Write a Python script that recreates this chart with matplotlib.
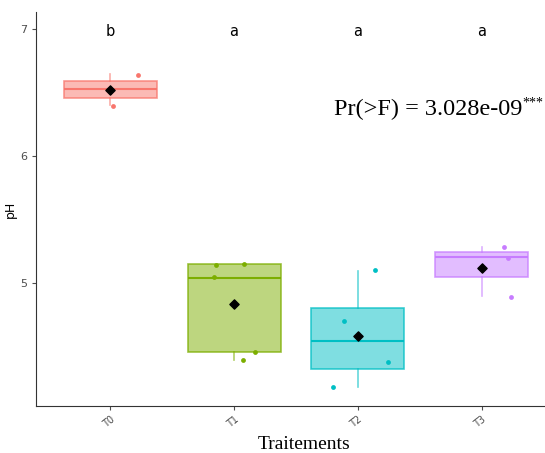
import matplotlib
matplotlib.use('Agg')
import matplotlib.pyplot as plt

# donnees
traitements = ['T0', 'T1', 'T2', 'T3']
lettres = ['b', 'a', 'a', 'a']
mediane = [6.527, 5.042, 4.543, 5.207]
q1 = [6.457, 4.459, 4.323, 5.045]
q3 = [6.590, 5.147, 4.801, 5.242]
moustache_bas = [6.400, 4.394, 4.183, 4.898]
moustache_haut = [6.646, 5.150, 5.097, 5.281]
moyenne = [6.522, 4.835, 4.585, 5.120]

# points visibles (decalage horizontal du jitter, valeur)
points_dx = [
    [0.22, 0.02],
    [-0.15, 0.08, -0.16, 0.17, 0.07],
    [0.14, -0.11, -0.20, 0.24],
    [0.18, 0.21, 0.24],
]
points_val = [
    [6.640, 6.390],
    [5.142, 5.150, 5.045, 4.457, 4.393],
    [5.105, 4.698, 4.181, 4.376],
    [5.281, 5.194, 4.887],
]
p_valeur = 'Pr(>F) = 3.028e-09'

couleurs = ['#F8766D', '#7CAE00', '#00BFC4', '#C77CFF']

fig = plt.figure(figsize=(5.45, 4.53), dpi=100)
ax = fig.add_axes([36 / 545, 47 / 453, 520 / 545, 394 / 453])

stats = []
for i in range(len(traitements)):
    stats.append({
        'med': mediane[i], 'q1': q1[i], 'q3': q3[i],
        'whislo': moustache_bas[i], 'whishi': moustache_haut[i],
        'mean': moyenne[i], 'fliers': [],
    })

bp = ax.bxp(stats, positions=range(len(traitements)), widths=0.75,
            patch_artist=True, showcaps=False, showmeans=False)
for i, c in enumerate(couleurs):
    bp['boxes'][i].set_facecolor(matplotlib.colors.to_rgba(c, 0.5))
    bp['boxes'][i].set_edgecolor(matplotlib.colors.to_rgba(c, 0.75))
    bp['boxes'][i].set_linewidth(1.2)
    bp['medians'][i].set_color(c)
    bp['medians'][i].set_linewidth(1.5)
    for w in bp['whiskers'][2 * i:2 * i + 2]:
        w.set_color(matplotlib.colors.to_rgba(c, 0.6))
        w.set_linewidth(1.2)

for i, c in enumerate(couleurs):
    xs = [i + d for d in points_dx[i]]
    ax.scatter(xs, points_val[i], s=12, color=c, zorder=4, linewidths=0)
    ax.scatter([i], [moyenne[i]], marker='D', s=22, color='black', zorder=5)
    ax.text(i, 6.98, lettres[i], ha='center', va='center', fontsize=10.5)

t = ax.text(1.81, 6.365, p_valeur, ha='left', va='center',
            fontsize=17.5, family='Liberation Serif')
ax.annotate('***', xy=(1, 0.8), xycoords=t, ha='left', va='center',
            fontsize=10, family='Liberation Serif')

ax.set_xlim(-0.6, 3.6)
ax.set_ylim(4.032, 7.134)
ax.set_xticks(range(len(traitements)))
ax.set_xticklabels(traitements, rotation=38, ha='right', rotation_mode='anchor',
                   fontsize=7, color='#4d4d4d')
ax.set_yticks([5, 6, 7])
ax.set_yticklabels(['5', '6', '7'], fontsize=8, color='#4d4d4d')
ax.tick_params(length=3, color='#4d4d4d', width=0.8)
ax.tick_params(axis='x', pad=3)
ax.set_ylabel('pH', fontsize=9, labelpad=2)
ax.set_xlabel('Traitements', fontsize=14, family='Liberation Serif', labelpad=2)
ax.xaxis.set_label_coords(0.515, -0.075)
ax.spines['top'].set_visible(False)
ax.spines['right'].set_visible(False)
ax.spines['left'].set_color('#333333')
ax.spines['bottom'].set_color('#333333')

fig.savefig('out.png', dpi=100)
